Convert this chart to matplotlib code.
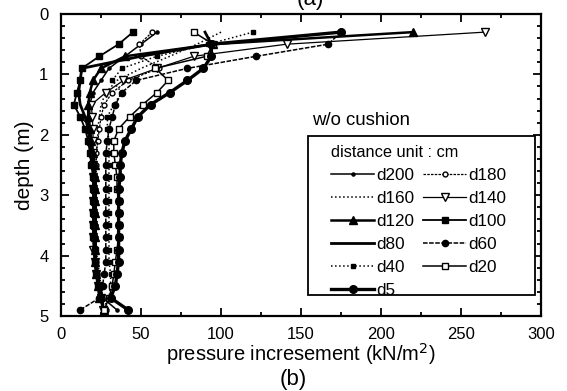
import matplotlib
matplotlib.use("Agg")
import matplotlib.pyplot as plt
from matplotlib.ticker import MultipleLocator
from matplotlib.patches import Rectangle

plt.rcParams['font.family'] = ['Liberation Sans', 'DejaVu Sans']

depth = [0.3, 0.5, 0.7, 0.9, 1.1, 1.3, 1.5, 1.7, 1.9, 2.1, 2.3, 2.5,
         2.7, 2.9, 3.1, 3.3, 3.5, 3.7, 3.9, 4.1, 4.3, 4.5, 4.7, 4.9]

d200 = [60, 50, 40, 30, 25, 20, 18, 18, 18, 19, 20, 21, 22, 22, 22, 22, 22, 22, 22, 22, 23, 24, 26, 35]
d180 = [57, 49, 50, 61, 42, 32, 27, 25, 24, 23, 22, 22, 21, 21, 21, 21, 21, 21, 21, 22, 22, 23, 25, 28]
d160 = [100, 85, 68, 50, 35, 28, 25, 24, 23, 23, 22, 22, 22, 22, 22, 22, 22, 22, 22, 23, 24, 25, 26, 30]
d140 = [265, 141, 83, 60, 39, 28, 19, 19.5, 20, 20, 20, 20, 20, 20, 20, 20, 20, 20, 20, 21, 22, 23, 25, 26]
d120 = [220, 95, 40, 25, 20, 18, 17, 17, 18, 19, 20, 21, 21, 21, 21, 21, 21, 21, 21, 21, 22, 23, 24, 27]
d100 = [45, 36, 24, 13, 12, 10, 8, 12, 15, 17, 18, 19, 20, 20, 20, 20, 20, 20, 21, 21, 22, 23, 25, 27]
d80 = [90, 94, 50, 13, 12, 11, 12, 15, 17, 18, 19, 20, 21, 21, 21, 21, 21, 21, 21, 22, 23, 24, 26, 26]
d60 = [175, 167, 122, 79, 47, 38, 34, 32, 30, 29, 28, 28, 28, 28, 28, 28, 28, 28, 28, 28, 27, 26, 24, 12]
d40 = [120, 92, 60, 38, 32, 38, 33, 29, 29, 30, 30, 30, 30, 30, 30, 30, 30, 30, 30, 30, 31, 31, 30, 28]
d20 = [83, 95, 91, 59, 67, 60, 51, 43, 36, 33, 33, 34, 35, 35, 36, 36, 36, 36, 35, 34, 33, 32, 30, 27]
d5 = [175, 94, 94, 89, 79, 68, 56, 48, 44, 40, 38, 37, 37, 36, 36, 36, 36, 36, 36, 36, 35, 34, 31, 42]

series = [
    ("d200", d200, dict(ls='-', lw=1.1, marker='.', ms=4.5)),
    ("d180", d180, dict(ls=(0, (2, 1)), lw=0.9, marker='o', ms=3.5, mfc='white')),
    ("d160", d160, dict(ls=':', lw=1.1, marker=None)),
    ("d140", d140, dict(ls='-', lw=0.9, marker='v', ms=5.5, mfc='white')),
    ("d120", d120, dict(ls='-', lw=1.8, marker='^', ms=5.5)),
    ("d100", d100, dict(ls='-', lw=1.3, marker='s', ms=4.5)),
    ("d80", d80, dict(ls='-', lw=2.0, marker=None)),
    ("d60", d60, dict(ls=(0, (3, 1)), lw=1.1, marker='o', ms=4.5)),
    ("d40", d40, dict(ls=':', lw=1.1, marker='s', ms=3.5)),
    ("d20", d20, dict(ls='-', lw=1.1, marker='s', ms=4.5, mfc='white')),
    ("d5", d5, dict(ls='-', lw=2.4, marker='o', ms=5.5)),
]

fig = plt.figure(figsize=(5.67, 3.91), dpi=100)
ax = fig.add_axes([61/567, 1-316/391, 480/567, 302/391])

handles = {}
for name, vals, st in series:
    h, = ax.plot(vals, depth, color='black', label=name, **st)
    handles[name] = h

ax.set_xlim(0, 300)
ax.set_ylim(5, 0)
ax.xaxis.set_major_locator(MultipleLocator(50))
ax.xaxis.set_minor_locator(MultipleLocator(25))
ax.yaxis.set_major_locator(MultipleLocator(1))
ax.yaxis.set_minor_locator(MultipleLocator(0.2))
ax.tick_params(which='both', direction='in', top=True, right=True, labelsize=12, width=1.3)
ax.tick_params(which='major', length=6)
ax.tick_params(which='minor', length=3)
ax.tick_params(axis='x', pad=8)
ax.tick_params(axis='y', pad=9)
for s in ax.spines.values():
    s.set_linewidth(1.6)

ax.set_xlabel('pressure incresement (kN/m$^2$)', fontsize=14.5, labelpad=-1)
ax.set_ylabel('depth (m)', fontsize=15, labelpad=4)

ax.text(157, 1.77, 'w/o cushion', fontsize=13.4, va='center', ha='left')

def ax_xy(px, py):
    return (px - 61) / 480, (316 - py) / 302

x0, y0 = ax_xy(308, 295)
x1, y1 = ax_xy(535, 136)
ax.add_patch(Rectangle((x0, y0), x1 - x0, y1 - y0, transform=ax.transAxes,
                       fill=True, facecolor='white', edgecolor='black', lw=1.3, zorder=4))

order = ["d200", "d160", "d120", "d80", "d40", "d5",
         "d180", "d140", "d100", "d60", "d20"]
lx, ly = ax_xy(328, 142)
leg = ax.legend([handles[n] for n in order], order, ncol=2, loc='upper left',
                bbox_to_anchor=(lx, ly), title='distance unit : cm', fontsize=12.3,
                title_fontsize=11.8, frameon=False,
                borderaxespad=0, handlelength=2.5, labelspacing=0.46, columnspacing=0.5,
                handletextpad=0.15, borderpad=0.2)
leg.set_zorder(5)
leg._legend_box.align = 'left'

fig.text(293/567, 1-379/391, '(b)', fontsize=16, ha='center', va='center')
fig.text(310/567, 1.0, '(a)', fontsize=16, ha='center', va='center')

fig.savefig('out.png', dpi=100)
